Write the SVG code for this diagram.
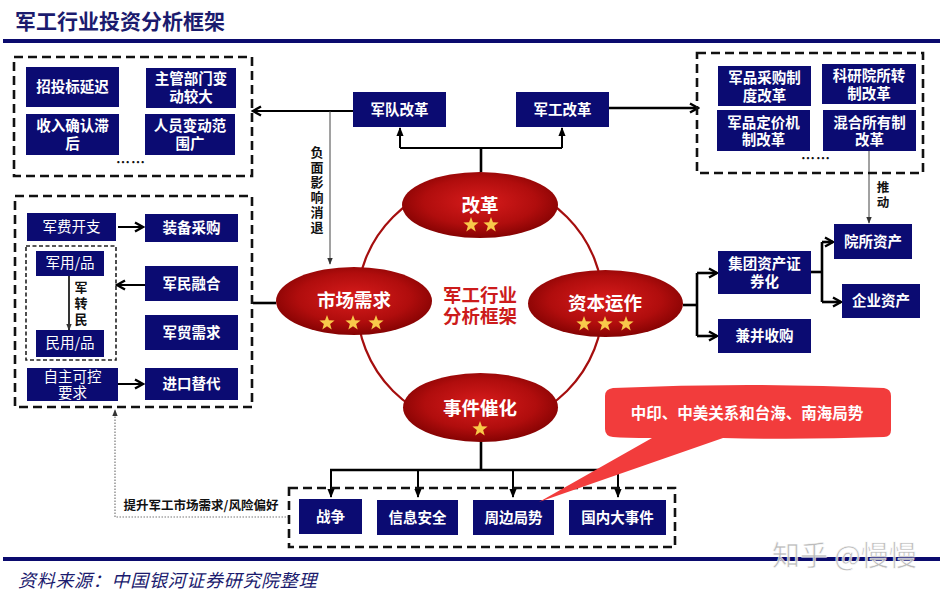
<svg xmlns="http://www.w3.org/2000/svg" width="943" height="594" viewBox="0 0 943 594">
<style>
text{font-family:"Noto Sans CJK SC","Noto Sans",sans-serif;}
.nb{fill:#0b0b72;}
.bt{fill:#fff;font-size:14.5px;font-weight:bold;text-anchor:middle;}
.rt{fill:#fff;font-size:14.5px;font-weight:normal;text-anchor:middle;}
.et{fill:#fff;font-size:18.5px;font-weight:bold;text-anchor:middle;}
.lb{fill:#111;font-size:12.5px;font-weight:bold;text-anchor:middle;}
.vt{fill:#111;font-size:13px;font-weight:bold;writing-mode:vertical-rl;letter-spacing:2px;}
.dash{fill:none;stroke:#111;stroke-width:2.6;stroke-dasharray:9 5;}
.dash2{fill:none;stroke:#222;stroke-width:1.6;stroke-dasharray:4 2.5;}
.c{fill:none;stroke:#000;stroke-width:2.6;}
.c2{fill:none;stroke:#000;stroke-width:2;}
.thin{fill:none;stroke:#444;stroke-width:1;}
</style>
<defs>
<radialGradient id="eg" cx="50%" cy="45%" r="60%">
<stop offset="0" stop-color="#d81c1c"/>
<stop offset="0.6" stop-color="#b00d0d"/>
<stop offset="1" stop-color="#7a0000"/>
</radialGradient>
<path id="star" d="M0,-8 L1.94,-2.67 L7.61,-2.47 L3.14,1.02 L4.7,6.47 L0,3.3 L-4.7,6.47 L-3.14,1.02 L-7.61,-2.47 L-1.94,-2.67 Z" fill="#f8c94a"/>
<marker id="open" viewBox="0 0 12 12" refX="10" refY="6" markerWidth="12" markerHeight="12" markerUnits="userSpaceOnUse" orient="auto">
<path d="M2,1.5 L10,6 L2,10.5" fill="none" stroke="#000" stroke-width="2.4"/>
</marker>
<marker id="tri" viewBox="0 0 10 10" refX="9" refY="5" markerWidth="9" markerHeight="9" markerUnits="userSpaceOnUse" orient="auto">
<path d="M0,1 L10,5 L0,9 Z" fill="#000"/>
</marker>
<marker id="tris" viewBox="0 0 10 10" refX="9" refY="5" markerWidth="7" markerHeight="7" markerUnits="userSpaceOnUse" orient="auto">
<path d="M0,1 L10,5 L0,9 Z" fill="#333"/>
</marker>
</defs>
<rect width="943" height="594" fill="#fff"/>

<!-- header / footer -->
<text x="15" y="29" font-size="21" font-weight="bold" fill="#1b1b6e">军工行业投资分析框架</text>
<rect x="3" y="39" width="937" height="4" fill="#0b0b6e"/>
<rect x="3" y="557" width="937" height="4" fill="#0b0b6e"/>
<text x="18" y="587" font-size="18" font-style="italic" fill="#1b1b6e" letter-spacing="0.7">资料来源：中国银河证券研究院整理</text>

<!-- circle -->
<circle cx="480" cy="304" r="123" fill="none" stroke="#a50e0e" stroke-width="2.2"/>

<!-- connectors -->
<g id="connectors">
<line class="c2" x1="353" y1="111" x2="253" y2="111" marker-end="url(#open)"/>
<line class="thin" x1="330" y1="111" x2="330" y2="264" marker-end="url(#tris)"/>
<polyline class="c" points="481,172 481,148"/>
<polyline class="c2" points="400,148 562,148"/>
<line class="c2" x1="400" y1="148" x2="400" y2="128" marker-end="url(#tri)"/>
<line class="c2" x1="562" y1="148" x2="562" y2="128" marker-end="url(#tri)"/>
<line class="c" x1="609" y1="108" x2="698" y2="108" marker-end="url(#open)"/>
<line class="thin" x1="869" y1="151" x2="869" y2="223" marker-end="url(#tris)"/>
<line class="c" x1="683" y1="305" x2="697" y2="305"/>
<polyline class="c" points="697,273 697,336"/>
<line class="c" x1="697" y1="273" x2="717" y2="273" marker-end="url(#open)"/>
<line class="c" x1="697" y1="336" x2="717" y2="336" marker-end="url(#open)"/>
<line class="c" x1="811" y1="272" x2="822" y2="272"/>
<polyline class="c" points="822,242 822,302"/>
<line class="c" x1="822" y1="242" x2="833" y2="242" marker-end="url(#open)"/>
<line class="c" x1="822" y1="302" x2="841" y2="302" marker-end="url(#open)"/>
<line class="c" x1="276" y1="303" x2="253" y2="303"/>
<line class="c2" x1="118" y1="227" x2="143" y2="227" marker-end="url(#open)"/>
<line class="c2" x1="145" y1="285" x2="117" y2="285" marker-end="url(#open)"/>
<line class="c2" x1="118" y1="384" x2="143" y2="384" marker-end="url(#open)"/>
<line x1="69" y1="276" x2="69" y2="330" stroke="#000" stroke-width="1.6" marker-end="url(#tris)"/>
<line class="c" x1="481" y1="442" x2="481" y2="470"/>
<line class="c" x1="330" y1="470" x2="618" y2="470"/>
<line class="c2" x1="331" y1="470" x2="331" y2="497" marker-end="url(#tri)"/>
<line class="c2" x1="418" y1="470" x2="418" y2="497" marker-end="url(#tri)"/>
<line class="c2" x1="513" y1="470" x2="513" y2="497" marker-end="url(#tri)"/>
<line class="c2" x1="618" y1="470" x2="618" y2="497" marker-end="url(#tri)"/>
<polyline points="289,517 115,517 115,410" fill="none" stroke="#777" stroke-width="1.2" stroke-dasharray="1.5 1.5" marker-end="url(#tris)"/>
</g>

<!-- labels -->
<g id="label-negative"><text class="vt" x="317" y="146">负面影响消退</text></g>
<g id="label-push"><text class="vt" x="883" y="181" style="font-size:12.5px">推动</text></g>
<g id="label-jzm"><text class="vt" x="81" y="281" style="letter-spacing:3px">军转民</text></g>
<g id="label-raise">
<text class="lb" x="201" y="510" font-size="12.5">提升军工市场需求/风险偏好</text>
</g>

<!-- top-left group -->
<g id="grp-army">
<rect class="dash" x="14" y="57" width="238" height="119"/>
<g id="n-ztb"><rect class="nb" x="26" y="67" width="93" height="40"/><text class="bt" x="72.5" y="92">招投标延迟</text></g>
<g id="n-zgbm"><rect class="nb" x="146" y="68" width="90" height="40"/><text class="bt" x="191" y="84">主管部门变<tspan x="191" dy="18">动较大</tspan></text></g>
<g id="n-srqr"><rect class="nb" x="26" y="114" width="93" height="41"/><text class="bt" x="72.5" y="131">收入确认滞<tspan x="72.5" dy="18">后</tspan></text></g>
<g id="n-rybd"><rect class="nb" x="145" y="114" width="90" height="41"/><text class="bt" x="190" y="131">人员变动范<tspan x="190" dy="18">围广</tspan></text></g>
<text x="131" y="167" font-size="14" font-weight="bold" fill="#111" text-anchor="middle" letter-spacing="1">……</text>
</g>

<g id="n-jdgg"><rect class="nb" x="353" y="92" width="93" height="35"/><text class="bt" x="399.5" y="115">军队改革</text></g>
<g id="n-jggg"><rect class="nb" x="516" y="92" width="93" height="35"/><text class="bt" x="562.5" y="115">军工改革</text></g>

<!-- top-right group -->
<g id="grp-industry">
<rect class="dash" x="697" y="53" width="226" height="120"/>
<g id="n-jpcg"><rect class="nb" x="718" y="66" width="93" height="40"/><text class="bt" x="764.5" y="83">军品采购制<tspan x="764.5" dy="17.5">度改革</tspan></text></g>
<g id="n-kyys"><rect class="nb" x="822" y="64" width="94" height="40"/><text class="bt" x="869" y="81">科研院所转<tspan x="869" dy="17.5">制改革</tspan></text></g>
<g id="n-jpdj"><rect class="nb" x="717" y="110" width="93" height="41"/><text class="bt" x="763.5" y="127.5">军品定价机<tspan x="763.5" dy="17.5">制改革</tspan></text></g>
<g id="n-hhsy"><rect class="nb" x="823" y="110" width="93" height="41"/><text class="bt" x="869.5" y="127.5">混合所有制<tspan x="869.5" dy="17.5">改革</tspan></text></g>
<text x="816" y="163" font-size="14" font-weight="bold" fill="#111" text-anchor="middle" letter-spacing="1">……</text>
</g>

<g id="n-ysz"><rect class="nb" x="834" y="224" width="78" height="35"/><text class="bt" x="873" y="247">院所资产</text></g>
<g id="n-qyz"><rect class="nb" x="842" y="284" width="78" height="34"/><text class="bt" x="881" y="306">企业资产</text></g>
<g id="n-jtzc"><rect class="nb" x="718" y="251" width="93" height="43"/><text class="bt" x="764.5" y="269">集团资产证<tspan x="764.5" dy="18">券化</tspan></text></g>
<g id="n-jbsg"><rect class="nb" x="718" y="319" width="93" height="34"/><text class="bt" x="764.5" y="341">兼并收购</text></g>

<!-- left-middle group -->
<g id="grp-market">
<rect class="dash" x="15" y="196" width="237" height="211"/>
<rect class="dash2" x="26" y="246" width="90" height="114"/>
<g id="n-jfkz"><rect class="nb" x="27" y="213" width="89" height="28"/><text class="rt" x="71.5" y="232">军费开支</text></g>
<g id="n-zbcg"><rect class="nb" x="145" y="214" width="93" height="28"/><text class="bt" x="191.5" y="233">装备采购</text></g>
<g id="n-jyp"><rect class="nb" x="36" y="251" width="68" height="25"/><text class="rt" x="70" y="268" font-size="13.5">军用/品</text></g>
<g id="n-myp"><rect class="nb" x="36" y="330" width="68" height="27"/><text class="rt" x="70" y="348" font-size="13.5">民用/品</text></g>
<g id="n-jmrh"><rect class="nb" x="145" y="266" width="93" height="35"/><text class="bt" x="191.5" y="289">军民融合</text></g>
<g id="n-jmxq"><rect class="nb" x="145" y="315" width="93" height="35"/><text class="bt" x="191.5" y="338">军贸需求</text></g>
<g id="n-zzkk"><rect class="nb" x="27" y="368" width="91" height="33"/><text class="rt" x="72.5" y="381.5">自主可控<tspan x="72.5" dy="16.5">要求</tspan></text></g>
<g id="n-jktd"><rect class="nb" x="145" y="368" width="93" height="32"/><text class="bt" x="191.5" y="389">进口替代</text></g>
</g>

<!-- ellipses -->
<g id="e-gg">
<ellipse cx="480" cy="205" rx="78" ry="33" fill="url(#eg)"/>
<text class="et" x="480" y="212">改革</text>
<use href="#star" x="471" y="225"/><use href="#star" x="491" y="225"/>
</g>
<g id="e-scxq">
<ellipse cx="354" cy="301" rx="78" ry="34" fill="url(#eg)"/>
<text class="et" x="354" y="307">市场需求</text>
<use href="#star" x="327" y="323"/><use href="#star" x="353" y="323"/><use href="#star" x="376" y="323"/>
</g>
<g id="e-zbyz">
<ellipse cx="605.5" cy="303.5" rx="77.5" ry="33.5" fill="url(#eg)"/>
<text class="et" x="605" y="310">资本运作</text>
<use href="#star" x="584" y="324"/><use href="#star" x="605" y="324"/><use href="#star" x="626" y="324"/>
</g>
<g id="e-sjch">
<ellipse cx="480.5" cy="407.5" rx="77.5" ry="34.5" fill="url(#eg)"/>
<text class="et" x="480" y="415">事件催化</text>
<use href="#star" x="480" y="429"/>
</g>
<g id="center-title">
<text x="480" y="302" font-size="18.5" font-weight="bold" fill="#cc1b1b" text-anchor="middle">军工行业<tspan x="480" dy="21">分析框架</tspan></text>
</g>

<!-- bottom group -->
<g id="grp-event">
<rect class="dash" x="289" y="488" width="386" height="59"/>
<g id="n-zz"><rect class="nb" x="299" y="499" width="63" height="35"/><text class="bt" x="330.5" y="522">战争</text></g>
<g id="n-xxaq"><rect class="nb" x="377" y="500" width="81" height="35"/><text class="bt" x="417.5" y="523">信息安全</text></g>
<g id="n-zbjs"><rect class="nb" x="473" y="500" width="81" height="35"/><text class="bt" x="513.5" y="523">周边局势</text></g>
<g id="n-gndsj"><rect class="nb" x="569" y="500" width="97" height="35"/><text class="bt" x="617.5" y="523">国内大事件</text></g>
</g>

<!-- callout -->
<g id="callout">
<path d="M613,388 Q748,382 884,388 Q891,389 891,396 L891,430 Q891,437 884,437 Q800,440 723,438 L539,502 L652,438 Q625,438 613,437 Q605,436 605,429 L605,396 Q605,389 613,388 Z" fill="#f23c3c"/>
<text x="747" y="419" font-size="15.5" font-weight="bold" fill="#fff" text-anchor="middle">中印、中美关系和台海、南海局势</text>
</g>

<!-- watermark -->
<text x="772" y="566" font-size="28" fill="#b4b4b4" stroke="#fff" stroke-width="0.6" opacity="0.9">知乎 @慢慢</text>
</svg>
